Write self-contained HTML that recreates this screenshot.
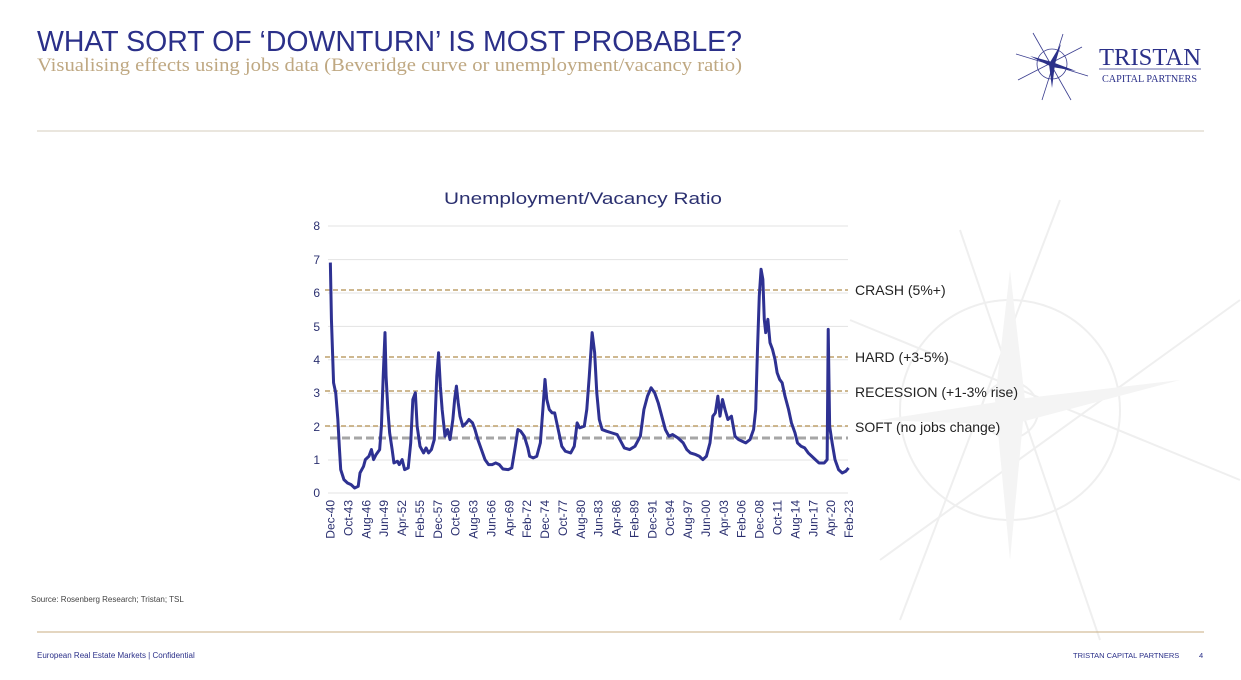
<!DOCTYPE html>
<html><head><meta charset="utf-8"><style>
html,body{margin:0;padding:0;background:#fff;}
svg{display:block;font-family:"Liberation Sans",sans-serif;}
</style></head><body>
<svg width="1241" height="680" viewBox="0 0 1241 680" xmlns="http://www.w3.org/2000/svg">
<g stroke="#efefef" stroke-width="2" fill="none">
<line x1="1060" y1="200" x2="900" y2="620"/>
<line x1="850" y1="320" x2="1240" y2="480"/>
<line x1="960" y1="230" x2="1100" y2="640"/>
<line x1="1240" y1="300" x2="880" y2="560"/>
<circle cx="1010" cy="410" r="110"/>
<circle cx="1010" cy="410" r="28"/>
</g>
<polygon points="1010,270 1025,400 1010,560 995,400" fill="#f4f4f4"/>
<polygon points="880,420 1010,400 1180,380 1010,425" fill="#f4f4f4"/>
<text x="37" y="51" font-size="29" fill="#2b3089" textLength="705" lengthAdjust="spacingAndGlyphs">WHAT SORT OF ‘DOWNTURN’ IS MOST PROBABLE?</text>
<text x="37" y="71" font-family="Liberation Serif,serif" font-size="19" fill="#bfa882" textLength="705" lengthAdjust="spacingAndGlyphs">Visualising effects using jobs data (Beveridge curve or unemployment/vacancy ratio)</text>
<g stroke="#3a3d8f" stroke-width="0.8" fill="none">
<line x1="1033" y1="33" x2="1071" y2="100"/><line x1="1016" y1="54" x2="1088" y2="76"/>
<line x1="1063" y1="34" x2="1042" y2="100"/><line x1="1018" y1="80" x2="1082" y2="47"/>
<circle cx="1052" cy="64" r="15"/>
</g>
<polygon points="1061,44 1055,64 1052,88 1049,64" fill="#2b3089"/>
<polygon points="1030,56 1052,62 1076,71 1052,67" fill="#2b3089"/>
<text x="1099" y="65" font-family="Liberation Serif,serif" font-size="24" fill="#2b3089" textLength="102" lengthAdjust="spacingAndGlyphs">TRISTAN</text>
<line x1="1099" y1="69" x2="1201" y2="69" stroke="#2b3089" stroke-width="0.8"/>
<text x="1102" y="82" font-family="Liberation Serif,serif" font-size="10" fill="#2b3089" textLength="95" lengthAdjust="spacingAndGlyphs">CAPITAL PARTNERS</text>
<line x1="37" y1="131" x2="1204" y2="131" stroke="#d6cdbd" stroke-width="1"/>
<text x="444" y="204" font-size="17" fill="#2b3070" textLength="278" lengthAdjust="spacingAndGlyphs">Unemployment/Vacancy Ratio</text>
<g stroke="#e3e3e3" stroke-width="1">
<line x1="328" y1="226" x2="848" y2="226"/><line x1="328" y1="259.6" x2="848" y2="259.6"/>
<line x1="328" y1="293" x2="848" y2="293"/><line x1="328" y1="326.4" x2="848" y2="326.4"/>
<line x1="328" y1="359.8" x2="848" y2="359.8"/><line x1="328" y1="393.2" x2="848" y2="393.2"/>
<line x1="328" y1="426.6" x2="848" y2="426.6"/><line x1="328" y1="460" x2="848" y2="460"/>
<line x1="328" y1="493" x2="848" y2="493"/>
</g>
<g font-size="12" fill="#2b3070" text-anchor="end">
<text x="320" y="230">8</text><text x="320" y="264">7</text><text x="320" y="297">6</text>
<text x="320" y="331">5</text><text x="320" y="364">4</text><text x="320" y="397">3</text>
<text x="320" y="431">2</text><text x="320" y="464">1</text><text x="320" y="497">0</text>
</g>
<g stroke="#c8ae80" stroke-width="1.8" stroke-dasharray="5,3">
<line x1="325" y1="290" x2="848" y2="290"/>
<line x1="325" y1="357" x2="848" y2="357"/>
<line x1="325" y1="391" x2="848" y2="391"/>
<line x1="325" y1="426" x2="848" y2="426"/>
</g>
<line x1="330" y1="438" x2="848" y2="438" stroke="#a6a6a6" stroke-width="3" stroke-dasharray="8,4"/>
<g font-size="14" fill="#222">
<text x="855" y="295">CRASH (5%+)</text>
<text x="855" y="362">HARD (+3-5%)</text>
<text x="855" y="397">RECESSION (+1-3% rise)</text>
<text x="855" y="432">SOFT (no jobs change)</text>
</g>
<g transform="translate(310,493) scale(0.35714,-33.4)">
<polyline vector-effect="non-scaling-stroke" fill="none" stroke="#2e3192" stroke-width="3" stroke-linejoin="round" points="57,6.9 60,5.2 66,3.3 72,3.0 78,2.2 82,1.4 86,0.7 95,0.4 105,0.3 115,0.25 125,0.15 135,0.2 140,0.6 150,0.8 155,1.0 165,1.1 172,1.3 178,1.0 185,1.15 195,1.3 200,2.0 205,3.5 210,4.8 213,3.5 218,2.5 223,1.8 230,1.3 235,0.9 245,0.95 250,0.85 258,1.0 265,0.7 275,0.75 282,1.5 288,2.8 295,3.0 300,2.0 308,1.4 318,1.2 325,1.35 332,1.2 340,1.3 348,1.6 355,3.5 360,4.2 365,3.2 370,2.5 378,1.7 385,1.9 392,1.6 400,2.2 405,2.8 410,3.2 415,2.7 420,2.3 428,2.0 438,2.1 445,2.2 455,2.1 462,1.9 470,1.6 480,1.3 490,1.0 500,0.85 510,0.85 520,0.9 530,0.85 540,0.72 555,0.7 565,0.75 575,1.4 582,1.9 590,1.85 600,1.7 610,1.35 615,1.1 625,1.05 635,1.1 645,1.5 652,2.5 658,3.4 663,2.8 670,2.5 678,2.4 685,2.4 695,1.9 705,1.4 715,1.25 730,1.2 740,1.4 748,2.1 755,1.95 768,2.0 775,2.5 782,3.5 790,4.8 797,4.2 803,3.0 810,2.2 818,1.9 830,1.85 845,1.8 860,1.75 870,1.55 880,1.35 895,1.3 910,1.4 925,1.7 935,2.5 945,2.9 955,3.15 965,3.0 975,2.7 985,2.3 995,1.9 1005,1.7 1015,1.75 1030,1.65 1045,1.5 1055,1.3 1065,1.2 1080,1.15 1090,1.1 1100,1.0 1110,1.1 1120,1.5 1128,2.3 1135,2.4 1142,2.9 1148,2.3 1155,2.8 1162,2.5 1170,2.2 1180,2.3 1190,1.7 1200,1.6 1210,1.55 1220,1.5 1232,1.6 1242,1.9 1248,2.5 1253,4.3 1258,5.9 1263,6.7 1268,6.4 1272,5.2 1276,4.8 1282,5.2 1288,4.5 1295,4.3 1302,4.0 1308,3.6 1315,3.4 1322,3.3 1330,2.9 1340,2.5 1348,2.1 1358,1.8 1365,1.5 1375,1.4 1385,1.35 1395,1.2 1405,1.1 1415,1.0 1425,0.9 1440,0.9 1448,1.0 1451,4.9 1455,2.0 1462,1.5 1470,1.0 1480,0.7 1490,0.6 1500,0.65 1508,0.75"/>
</g>
<g font-size="12" fill="#2b3070" text-anchor="end">
<text transform="translate(334.5,500) rotate(-90)">Dec-40</text>
<text transform="translate(352.4,500) rotate(-90)">Oct-43</text>
<text transform="translate(370.3,500) rotate(-90)">Aug-46</text>
<text transform="translate(388.1,500) rotate(-90)">Jun-49</text>
<text transform="translate(406.0,500) rotate(-90)">Apr-52</text>
<text transform="translate(423.9,500) rotate(-90)">Feb-55</text>
<text transform="translate(441.8,500) rotate(-90)">Dec-57</text>
<text transform="translate(459.7,500) rotate(-90)">Oct-60</text>
<text transform="translate(477.5,500) rotate(-90)">Aug-63</text>
<text transform="translate(495.4,500) rotate(-90)">Jun-66</text>
<text transform="translate(513.3,500) rotate(-90)">Apr-69</text>
<text transform="translate(531.2,500) rotate(-90)">Feb-72</text>
<text transform="translate(549.1,500) rotate(-90)">Dec-74</text>
<text transform="translate(566.9,500) rotate(-90)">Oct-77</text>
<text transform="translate(584.8,500) rotate(-90)">Aug-80</text>
<text transform="translate(602.7,500) rotate(-90)">Jun-83</text>
<text transform="translate(620.6,500) rotate(-90)">Apr-86</text>
<text transform="translate(638.5,500) rotate(-90)">Feb-89</text>
<text transform="translate(656.3,500) rotate(-90)">Dec-91</text>
<text transform="translate(674.2,500) rotate(-90)">Oct-94</text>
<text transform="translate(692.1,500) rotate(-90)">Aug-97</text>
<text transform="translate(710.0,500) rotate(-90)">Jun-00</text>
<text transform="translate(727.9,500) rotate(-90)">Apr-03</text>
<text transform="translate(745.7,500) rotate(-90)">Feb-06</text>
<text transform="translate(763.6,500) rotate(-90)">Dec-08</text>
<text transform="translate(781.5,500) rotate(-90)">Oct-11</text>
<text transform="translate(799.4,500) rotate(-90)">Aug-14</text>
<text transform="translate(817.3,500) rotate(-90)">Jun-17</text>
<text transform="translate(835.1,500) rotate(-90)">Apr-20</text>
<text transform="translate(853.0,500) rotate(-90)">Feb-23</text>
</g>
<text x="31" y="602" font-size="8" fill="#444">Source: Rosenberg Research; Tristan; TSL</text>
<line x1="37" y1="632" x2="1204" y2="632" stroke="#c8ae80" stroke-width="1"/>
<text x="37" y="658" font-size="8" fill="#2b3089">European Real Estate Markets  |  Confidential</text>
<text x="1073" y="658" font-size="7.5" fill="#2b3089">TRISTAN CAPITAL PARTNERS</text>
<text x="1199" y="658" font-size="7.5" fill="#2b3089">4</text>
</svg>
</body></html>
